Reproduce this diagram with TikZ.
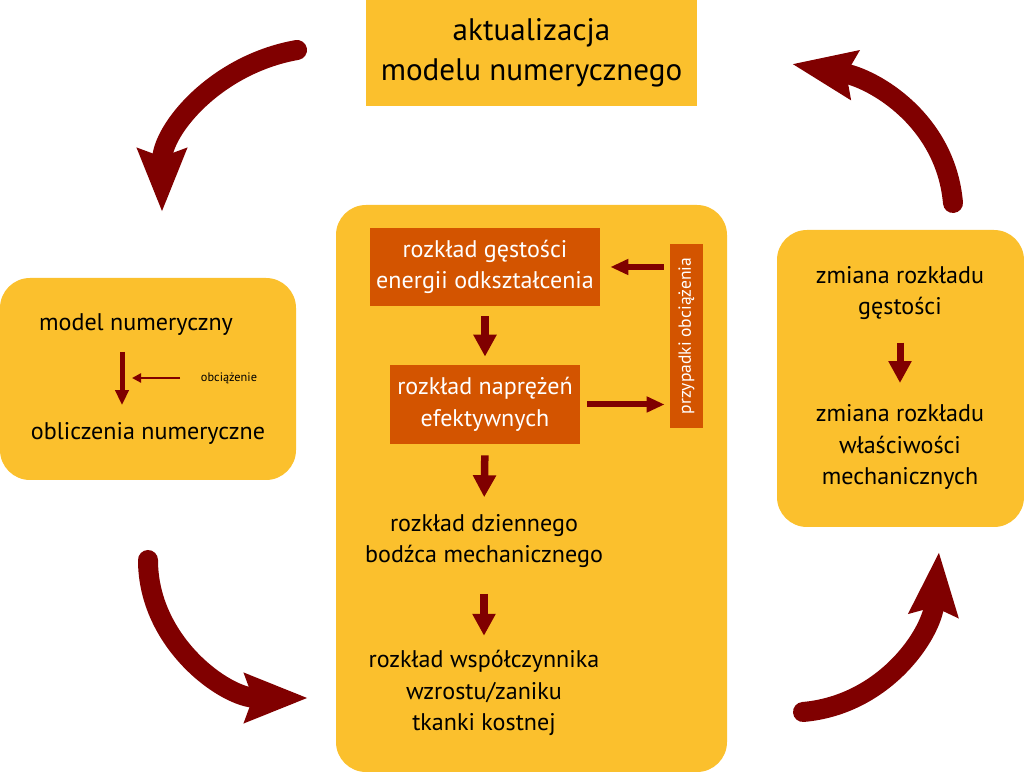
\documentclass[tikz,border=0pt]{standalone}
\usepackage{fontspec}
\setmainfont{PT Sans}
\usetikzlibrary{arrows.meta, positioning}
\definecolor{boxyellow}{RGB}{251,192,45}
\definecolor{boxorange}{RGB}{211,84,0}
\definecolor{arrowred}{RGB}{128,0,0}

\begin{document}
\begin{tikzpicture}[
  yellowbox/.style={fill=boxyellow, rounded corners=0.6cm, inner sep=0pt},
  orangebox/.style={fill=boxorange, inner sep=0pt, align=center, text=white,
    font=\fontsize{13.7}{18}\selectfont},
  txt/.style={align=center, inner sep=2pt, font=\fontsize{13.7}{18}\selectfont},
  bigarrow/.style={arrowred, line width=0.4cm, line cap=round,
    -{Stealth[length=1.25cm, width=0.95cm, inset=0.15cm]}},
  downarrow/.style={arrowred, line width=0.15cm, -{Triangle[length=0.44cm, width=0.44cm]}},
  sidearrow/.style={arrowred, line width=0.12cm, -{Triangle[length=0.36cm, width=0.3cm]}},
  thinarrow/.style={arrowred, line width=0.1cm, -{Triangle[length=0.3cm, width=0.26cm]}},
  hairarrow/.style={arrowred, line width=0.05cm, -{Triangle[length=0.18cm, width=0.18cm]}},
]
  \useasboundingbox (0,0) rectangle (20.48,15.44);

  % boxes
  \node [fill=boxyellow, inner sep=0pt, minimum width=6.62cm, minimum height=2.12cm,
    align=center, font=\fontsize{17.7}{22.5}\selectfont] (update) at (10.63,14.38)
    {aktualizacja\\modelu numerycznego};
  \node [yellowbox, minimum width=5.92cm, minimum height=4.04cm] (leftbox) at (2.96,7.86) {};
  \node [yellowbox, minimum width=7.82cm, minimum height=11.34cm] (midbox) at (10.63,5.67) {};
  \node [yellowbox, minimum width=4.94cm, minimum height=5.94cm] (rightbox) at (18.01,7.87) {};

  % left box
  \node [txt] (model) at (2.72,8.94) {model numeryczny};
  \node [txt] (calc) at (2.96,6.78) {obliczenia numeryczne};
  \node [txt, font=\fontsize{7}{9}\selectfont] (load) at (4.58,7.88) {obciążenie};
  \coordinate (axis) at (2.44,0);
  \coordinate (hit) at (2.64,7.88);
  \draw [thinarrow, shorten <=0.24cm, shorten >=0.26cm] (model.south -| axis) -- (calc.north -| axis);
  \draw [hairarrow, shorten <=0.34cm] (load.west) -- (hit);

  % middle box
  \node [orangebox, minimum width=4.6cm, minimum height=1.56cm] (energy) at (9.70,10.10)
    {rozkład gęstości\\energii odkształcenia};
  \node [orangebox, minimum width=3.8cm, minimum height=1.58cm] (stress) at (9.70,7.35)
    {rozkład naprężeń\\efektywnych};
  \node [orangebox, rotate=90, minimum width=3.68cm, minimum height=0.66cm,
    font=\fontsize{10}{12}\selectfont] (cases) at (13.73,8.72) {przypadki obciążenia};
  \node [txt] (stimulus) at (9.68,4.62) {rozkład dziennego\\bodźca mechanicznego};
  \node [txt] (growth) at (9.68,1.58) {rozkład współczynnika\\wzrostu/zaniku\\tkanki kostnej};

  \draw [downarrow, shorten <=0.2cm, shorten >=0.16cm] (energy.south) -- (stress.north);
  \draw [downarrow, shorten <=0.22cm, shorten >=0.26cm] (stress.south) -- (stimulus.north);
  \draw [downarrow, shorten <=0.44cm, shorten >=0.21cm] (stimulus.south) -- (growth.north);
  \draw [sidearrow, shorten <=0.12cm, shorten >=0.2cm] (cases.north |- energy.east) -- (energy.east);
  \draw [sidearrow, shorten <=0.14cm, shorten >=0.1cm] (stress.east) -- (cases.north |- stress.east);

  % right box
  \node [txt] (density) at (18.0,9.58) {zmiana rozkładu\\gęstości};
  \node [txt] (props) at (18.0,6.50) {zmiana rozkładu\\właściwości\\mechanicznych};
  \draw [downarrow, line width=0.14cm, shorten <=0.38cm, shorten >=0.35cm] (density.south) -- (props.north);

  % loop arrows
  \coordinate (tl1) at (5.94,14.44);
  \coordinate (tl2) at (3.24,11.20);
  \coordinate (bl1) at (2.96,4.24);
  \coordinate (bl2) at (6.16,1.48);
  \coordinate (br1) at (16.06,1.20);
  \coordinate (br2) at (18.78,4.40);
  \coordinate (tr1) at (19.06,11.38);
  \coordinate (tr2) at (15.84,14.16);
  \draw [bigarrow] (tl1) to [out=190, in=90] (tl2);
  \draw [bigarrow] (bl1) to [out=270, in=180] (bl2);
  \draw [bigarrow] (br1) to [out=5, in=265] (br2);
  \draw [bigarrow] (tr1) to [out=95, in=-10] (tr2);
\end{tikzpicture}
\end{document}
